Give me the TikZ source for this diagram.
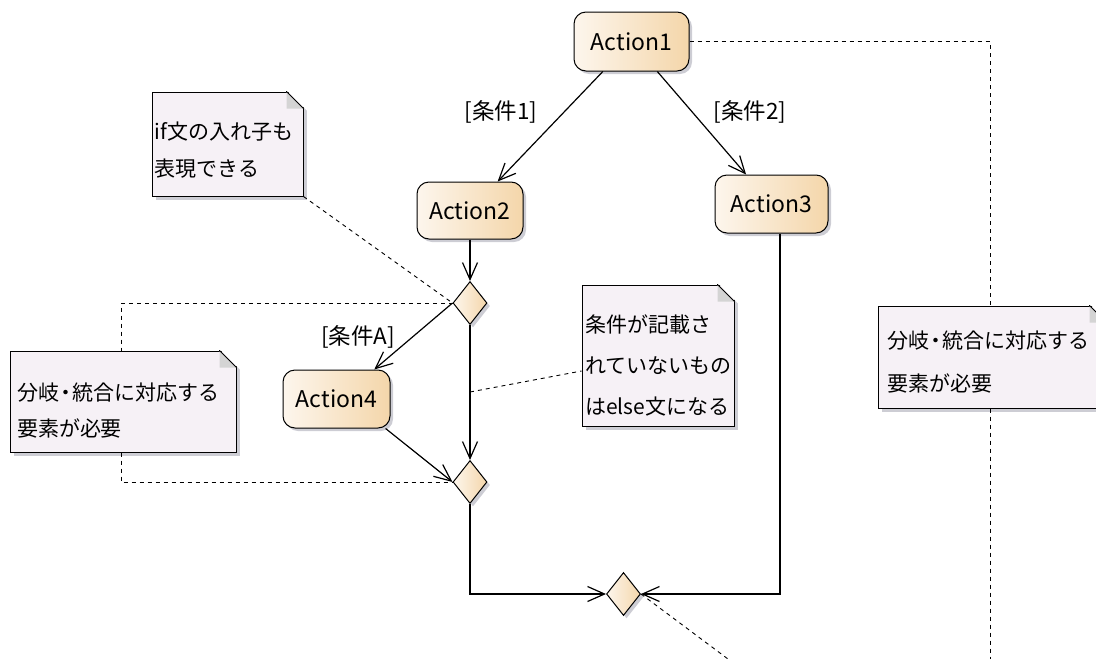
\documentclass[tikz,border=0pt]{standalone}
\usepackage{fontspec}
\setmainfont{Noto Sans CJK JP}
\usetikzlibrary{shapes.geometric,arrows.meta,shadows}
\definecolor{actL}{RGB}{253,246,237}
\definecolor{actR}{RGB}{244,214,170}
\definecolor{notef}{RGB}{246,241,246}
\definecolor{foldc}{RGB}{212,212,212}
\definecolor{shad}{RGB}{205,205,212}
\newcommand{\dogear}[1]{%
  \fill[white] ([xshift=-17pt,yshift=1.5pt]#1.north east) -- ([xshift=5pt,yshift=1.5pt]#1.north east) -- ([xshift=5pt,yshift=-20.5pt]#1.north east) -- cycle;
  \fill[foldc] ([xshift=-17pt]#1.north east) -- ([xshift=-17pt,yshift=-17pt]#1.north east) -- ([yshift=-17pt]#1.north east) -- cycle;
  \draw[line width=1pt] ([xshift=-17pt]#1.north east) -- ([yshift=-17pt]#1.north east);
  \draw[line width=1pt] ([xshift=-17.5pt]#1.north east) -- ([xshift=-17pt]#1.north east);
  \draw[line width=1pt] ([yshift=-17pt]#1.north east) -- ([yshift=-17.5pt]#1.north east);
}
\newcommand{\ndot}{\kern-4pt・\kern-4pt}
\begin{document}
\begin{tikzpicture}[x=1pt,y=-1pt,
  action/.style={draw, line width=1pt, rounded corners=12pt, left color=actL, right color=actR,
    drop shadow={fill=shad, shadow xshift=3pt, shadow yshift=-3pt, opacity=1},
    inner sep=0pt, font=\fontsize{23}{28}\selectfont},
  merge/.style={diamond, draw, line width=1pt, inner sep=0pt, minimum width=34pt, minimum height=43pt,
    left color=actL, right color=actR,
    drop shadow={fill=shad, shadow xshift=3pt, shadow yshift=-3pt, opacity=1}},
  note/.style={draw, line width=1pt, fill=notef, align=left, inner ysep=0pt,
    drop shadow={fill=shad, shadow xshift=4pt, shadow yshift=-4pt, opacity=1},
    font=\fontsize{21}{37}\selectfont},
  flow/.style={line width=1.2pt, -{Straight Barb[length=17pt,width=15pt,line width=1.2pt]}},
  dsh/.style={line width=0.9pt, dash pattern=on 4pt off 4pt},
  guard/.style={inner sep=0pt, font=\fontsize{22.5}{26}\selectfont}
]
\useasboundingbox (0,0) rectangle (1096,659);
\clip (0,0) rectangle (1096,659);

% actions
\node[action, minimum width=115pt, minimum height=59pt] (a1) at (631.5,41.5) {Action1};
\node[action, minimum width=106pt, minimum height=57pt] (a2) at (470,210.5) {Action2};
\node[action, minimum width=113pt, minimum height=58pt] (a3) at (771.5,204) {Action3};
\node[action, minimum width=107pt, minimum height=58pt] (a4) at (336.5,399) {Action4};

% decision / merge nodes
\node[merge] (d1) at (470,303) {};
\node[merge] (d2) at (470,482) {};
\node[merge] (d3) at (623.5,594) {};

% notes
\node[note, minimum width=151pt, minimum height=104pt, text width=146pt, inner xsep=2.5pt,
  text height=30pt, font=\fontsize{21}{36.5}\selectfont] (n1) at (227.5,144) {if文の入れ子も\\表現できる};
\dogear{n1}
\node[note, minimum width=226pt, minimum height=101pt, text width=212pt, inner xsep=7pt,
  text height=35pt, font=\fontsize{21}{36}\selectfont] (n2) at (123,401.5) {分岐\ndot 統合に対応する\\要素が必要};
\dogear{n2}
\node[note, minimum width=152pt, minimum height=141pt, text width=146pt, inner xsep=3pt,
  text height=37pt, font=\fontsize{21}{41}\selectfont] (n3) at (658,355.5) {条件が記載さ\\れていないもの\\はelse文になる};
\dogear{n3}
\node[note, minimum width=228pt, minimum height=102pt, text width=210pt, inner xsep=9pt,
  text height=28pt, font=\fontsize{21}{43}\selectfont] (n4) at (992,357) {分岐\ndot 統合に対応する\\要素が必要};
\dogear{n4}

% guards
\node[guard] (g1) at (501,112) {[条件1]};
\node[guard] (g2) at (750,112) {[条件2]};
\node[guard] (gA) at (358,337) {[条件A]};

% control flows
\draw[flow] (a1) -- (a2);
\draw[flow] (a1) -- (a3);
\draw[flow] (a2) -- (d1);
\draw[flow] (d1.west) -- (a4.38);
\draw[flow] (d1) -- (d2);
\draw[flow] (a4.-31) -- (d2.west);
\draw[flow] (d2.south) |- (d3.west);
\draw[flow] ([xshift=8.5pt]a3.south) |- (d3.east);

% note anchors
\coordinate (k1) at (990,659);
\coordinate (k3) at (121,303);
\coordinate (k4) at (470,392);
\coordinate (k5) at (728,659);
\draw[dsh] (a1.east) -| (k1 |- n4.north);
\draw[dsh] (k1 |- n4.south) -- (k1);
\draw[dsh] (n1.south east) -- (d1.west);
\draw[dsh] (d1.west) -- (k3) -- (k3 |- n2.north);
\draw[dsh] (k3 |- n2.south) |- (d2.west);
\draw[dsh] (k4) -- ([yshift=-15.5pt]n3.west);
\draw[dsh] (d3.east) -- (k5);
\end{tikzpicture}
\end{document}
